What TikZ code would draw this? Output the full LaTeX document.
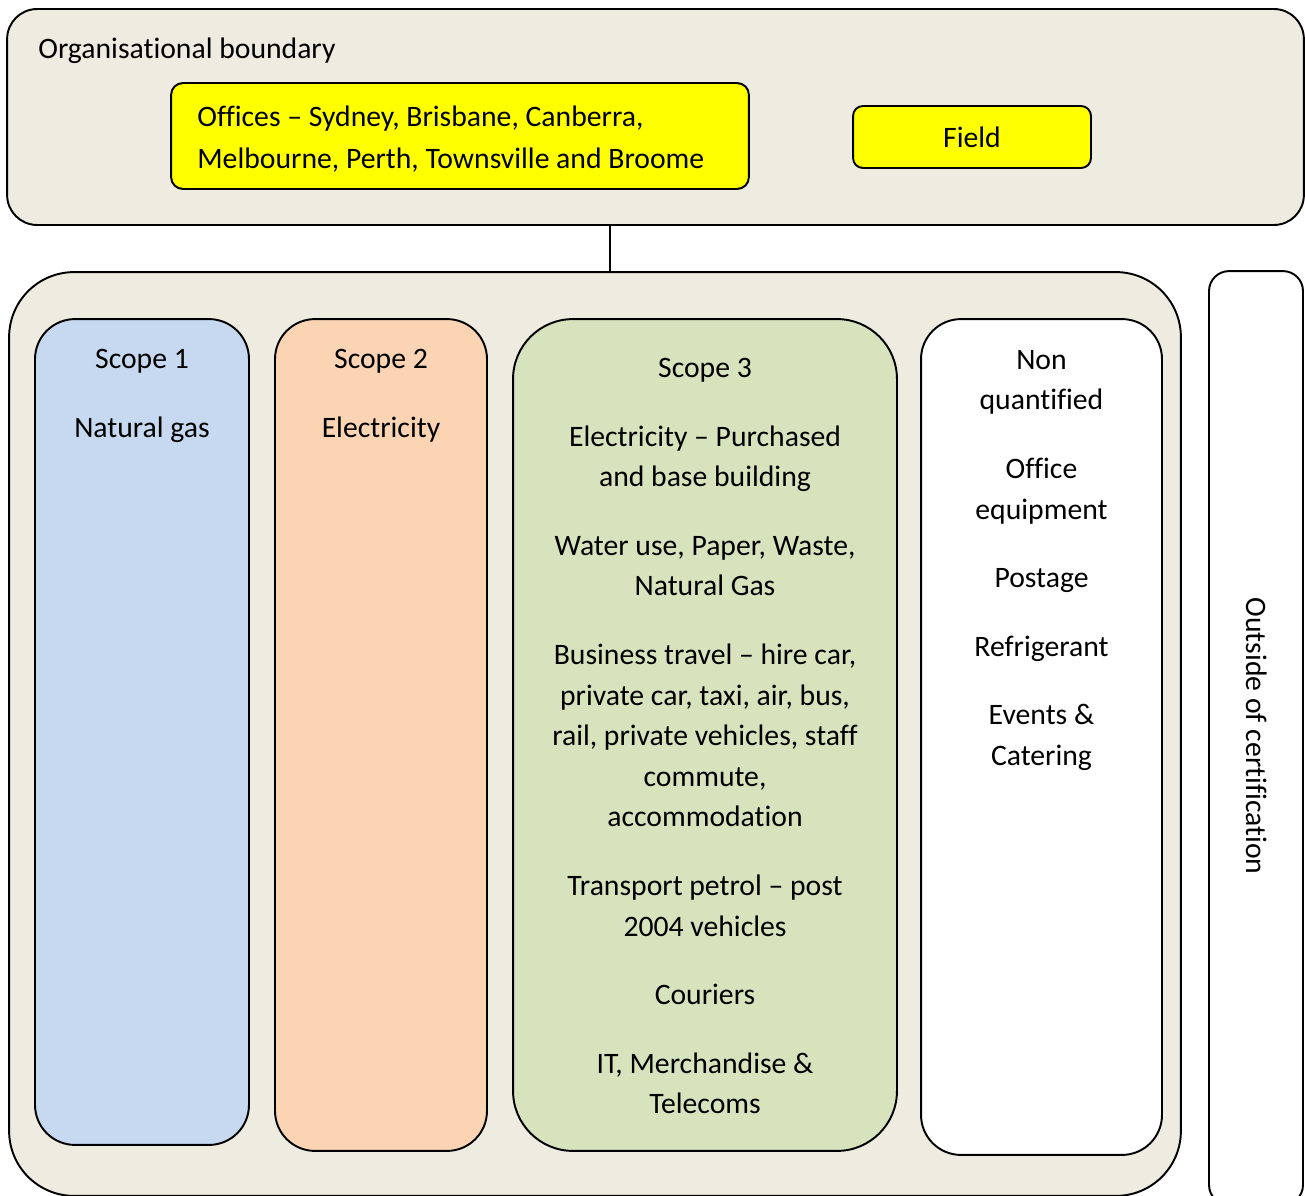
\documentclass[tikz,border=0pt]{standalone}
\usepackage{fontspec}
\setmainfont{Carlito}[Ligatures=NoCommon]
\usetikzlibrary{positioning}
\definecolor{boundBeige}{HTML}{EEEBE0}
\definecolor{siteYellow}{HTML}{FFFF00}
\definecolor{scopeBlue}{HTML}{C6D9F0}
\definecolor{scopePeach}{HTML}{FBD4B4}
\definecolor{scopeGreen}{HTML}{D7E3BC}
\tikzset{
  frameBox/.style={rectangle, draw=black, line width=1.1pt, fill=boundBeige},
  siteBox/.style={rectangle, rounded corners=0.24cm, draw=black, line width=1.1pt,
                  fill=siteYellow, inner sep=0pt},
  scopeBox/.style={rectangle, rounded corners=0.8cm, draw=black, line width=1.1pt,
                   inner sep=0pt},
  colText/.style={anchor=north, align=center, inner sep=0pt},
}

\begin{document}
\begin{tikzpicture}[x=0.02cm, y=-0.02cm, font=\fontsize{16.9}{23.1}\selectfont]
    \useasboundingbox (0,0) rectangle (1305,1196);
    % organisational boundary
    \node[frameBox, rounded corners=0.6cm, minimum width=25.94cm, minimum height=4.32cm]
          (org) at (655.5,117) {};
    \node[anchor=base west, inner sep=0pt] (orglabel) at (38,59) {Organisational boundary};
    \node[siteBox, minimum width=11.56cm, minimum height=2.12cm] (offices) at (460,136) {};
    \node[anchor=north west, align=left, inner sep=0pt] (officestext) at (197,106)
          {Offices – Sydney, Brisbane, Canberra,\\[0.02cm]Melbourne, Perth, Townsville and Broome};
    \node[siteBox, rounded corners=0.2cm, minimum width=4.76cm, minimum height=1.24cm]
          (field) at (972,137) {Field};
    % emission sources
    \node[frameBox, rounded corners=1.3cm, minimum width=23.44cm, minimum height=18.48cm]
          (sources) at (595,734) {};
    \coordinate (link) at (610,0);
    \draw[line width=1.1pt] (org.south -| link) -- (sources.north -| link);
    \node[scopeBox, fill=scopeBlue, minimum width=4.28cm, minimum height=16.52cm]
          (s1) at (142,732) {};
    \node[scopeBox, fill=scopePeach, minimum width=4.24cm, minimum height=16.64cm]
          (s2) at (381,735) {};
    \node[scopeBox, fill=scopeGreen, rounded corners=1.2cm, minimum width=7.68cm,
          minimum height=16.64cm] (s3) at (705,735) {};
    \node[scopeBox, fill=white, minimum width=4.82cm, minimum height=16.72cm]
          (nq) at (1041.5,737) {};
    \node[scopeBox, fill=white, rounded corners=0.4cm, minimum width=1.88cm,
          minimum height=18.68cm] (outside) at (1256,738) {};
    % column texts
    \node[colText] (s1text) at (142,349) {Scope 1\\[0.56cm]Natural gas};
    \node[colText] (s2text) at (381,349) {Scope 2\\[0.56cm]Electricity};
    \node[colText] (s3text) at (705,358) {Scope 3\\[0.56cm]
          Electricity – Purchased\\and base building\\[0.56cm]
          Water use, Paper, Waste,\\Natural Gas\\[0.56cm]
          Business travel – hire car,\\private car, taxi, air, bus,\\
          rail, private vehicles, staff\\commute,\\accommodation\\[0.56cm]
          Transport petrol – post\\2004 vehicles\\[0.56cm]
          Couriers\\[0.56cm]
          IT, Merchandise \&\\Telecoms};
    \node[colText] (nqtext) at (1041.5,350) {Non\\quantified\\[0.56cm]
          Office\\equipment\\[0.56cm]Postage\\[0.56cm]Refrigerant\\[0.56cm]
          Events \&\\Catering};
    \node[rotate=-90, inner sep=0pt] (outsidetext) at (1257,736) {Outside of certification};
\end{tikzpicture}
\end{document}
